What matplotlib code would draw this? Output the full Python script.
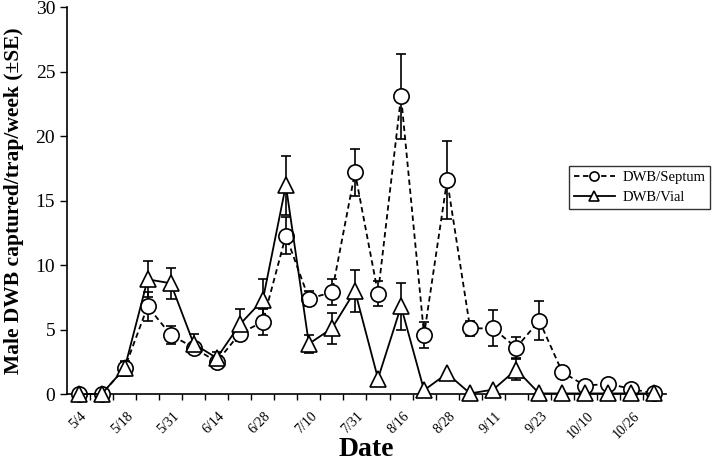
import numpy as np
import matplotlib.pyplot as plt
import matplotlib as mpl
from matplotlib.transforms import ScaledTranslation

mpl.rcParams["font.family"] = "serif"
mpl.rcParams["font.serif"] = ["Liberation Serif", "DejaVu Serif"]

# weekly trap checks; only every second date is labelled on the axis
date_labels = ["5/4", "", "5/18", "", "5/31", "", "6/14", "", "6/28", "",
               "7/10", "", "7/31", "", "8/16", "", "8/28", "", "9/11", "",
               "9/23", "", "10/10", "", "10/26", ""]

septum_mean = [0, 0, 2.0, 6.8, 4.6, 3.6, 2.5, 4.7, 5.6, 12.3, 7.4, 7.9, 17.2,
               7.8, 23.1, 4.6, 16.6, 5.1, 5.1, 3.6, 5.7, 1.7, 0.65, 0.8, 0.4, 0.05]
septum_se = [0, 0, 0.6, 1.1, 0.7, 0.3, 0.2, 0.6, 1.0, 1.4, 0.6, 1.0, 1.8,
             1.0, 3.3, 1.0, 3.0, 0.6, 1.4, 0.8, 1.5, 0, 0, 0, 0, 0]

vial_mean = [0, 0, 2.0, 8.9, 8.6, 3.9, 2.8, 5.4, 7.3, 16.2, 3.9, 5.1, 8.0,
             1.2, 6.8, 0.3, 1.6, 0.05, 0.35, 1.9, 0.05, 0.05, 0.05, 0.05, 0.05, 0.05]
vial_se = [0, 0, 0.5, 1.4, 1.2, 0.8, 0.5, 1.2, 1.6, 2.3, 0.7, 1.2, 1.6,
           0, 1.8, 0, 0, 0, 0, 0.8, 0, 0, 0, 0, 0, 0]

x = np.arange(len(date_labels))

fig = plt.figure(figsize=(7.13, 4.62), dpi=100)
ax = fig.add_axes([0.094, 0.147, 0.84, 0.837])

# error bars first, so the white markers sit on top of them
for mean, se in [(septum_mean, septum_se), (vial_mean, vial_se)]:
    se = np.array(se)
    m = se > 0
    ax.errorbar(x[m], np.array(mean)[m], yerr=se[m], fmt="none", ecolor="black",
                elinewidth=1.2, capsize=3.5, capthick=1.2, zorder=2)

ax.plot(x, septum_mean, color="black", lw=1.3, ls=(0, (3, 2)), marker="o",
        ms=11, mfc="white", mec="black", mew=1.2, zorder=3, label="DWB/Septum",
        clip_on=False)
ax.plot(x, vial_mean, color="black", lw=1.3, ls="-", marker="^",
        ms=12, mfc="white", mec="black", mew=1.2, zorder=4, label="DWB/Vial",
        clip_on=False)

ax.set_xlim(-0.5, len(x) - 0.5)
ax.set_ylim(0, 30)
ax.set_yticks(np.arange(0, 31, 5))
ax.tick_params(axis="y", labelsize=14, direction="out", length=5, width=1)

ax.set_xticks(x[::2])
ax.set_xticklabels(date_labels[::2], rotation=45, ha="right", fontsize=10,
                   rotation_mode="anchor")
ax.set_xticks(np.arange(0.5, len(x) - 0.5, 1), minor=True)
ax.tick_params(axis="x", which="major", length=0, pad=11)
ax.tick_params(axis="x", which="minor", direction="out", length=4, width=1)
shift = ScaledTranslation(1 / 72, 0, fig.dpi_scale_trans)
for lbl in ax.get_xticklabels():
    lbl.set_transform(lbl.get_transform() + shift)

for side in ["top", "right"]:
    ax.spines[side].set_visible(False)
for side in ["left", "bottom"]:
    ax.spines[side].set_linewidth(1.2)

ax.set_xlabel("Date", fontsize=20, fontweight="bold", labelpad=-3)
ax.set_ylabel("Male DWB captured/trap/week (\u00b1SE)", fontsize=15.5,
              fontweight="bold", labelpad=8)

leg = ax.legend(loc="upper left", bbox_to_anchor=(0.838, 0.59), fontsize=10.5,
                frameon=True, fancybox=False, edgecolor="black", markerscale=0.6,
                handlelength=2.8, borderpad=0.35, labelspacing=0.45,
                handletextpad=0.5, borderaxespad=0)
leg.get_frame().set_linewidth(1.0)

fig.savefig("out.png", dpi=100)
